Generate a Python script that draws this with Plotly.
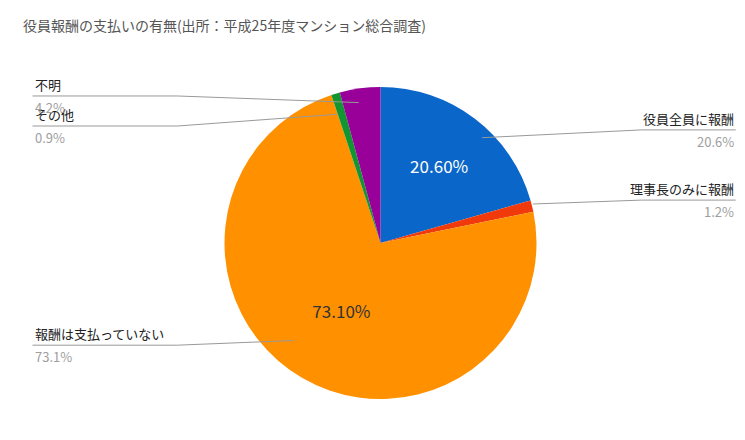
import plotly.graph_objects as go

labels = ["役員全員に報酬", "理事長のみに報酬", "報酬は支払っていない", "その他", "不明"]
values = [20.6, 1.2, 73.1, 0.9, 4.2]
colors = ["#0a66c8", "#f03a0c", "#ff9100", "#119632", "#990099"]
inside_text = ["20.60%", "", "73.10%", "", ""]
text_colors = ["white", "white", "#333333", "white", "white"]

fig = go.Figure(go.Pie(
    labels=labels, values=values, sort=False, direction="clockwise", rotation=0,
    marker=dict(colors=colors),
    text=inside_text, textinfo="text", textposition="inside",
    insidetextfont=dict(size=17, color=text_colors),
    domain=dict(x=[0.2, 0.8], y=[0.1, 0.9]),
    hoverinfo="label+percent",
))

# line y (paper), side, elbow x, target x, target y
callouts = [
    (0.79, "right", 0.86, 0.64, 0.77),
    (0.61, "right", 0.86, 0.71, 0.60),
    (0.238, "left", 0.22, 0.38, 0.25),
    (0.80, "left", 0.22, 0.44, 0.83),
    (0.877, "left", 0.22, 0.47, 0.86),
]
for i, (y, side, ex, tx, ty) in enumerate(callouts):
    x = 0.99 if side == "right" else 0.02
    fig.add_annotation(x=x, y=y, xref="paper", yref="paper", xanchor=side,
                       yanchor="bottom", text=labels[i], showarrow=False,
                       font=dict(size=13, color="#222"))
    fig.add_annotation(x=x, y=y, xref="paper", yref="paper", xanchor=side,
                       yanchor="top", text=f"{values[i]}%", showarrow=False,
                       font=dict(size=13, color="#9e9e9e"))
    fig.add_shape(type="line", xref="paper", yref="paper",
                  x0=x, x1=ex, y0=y, y1=y, line=dict(color="#999", width=1))
    fig.add_shape(type="line", xref="paper", yref="paper",
                  x0=ex, x1=tx, y0=y, y1=ty, line=dict(color="#999", width=1))

fig.update_layout(
    width=745, height=440, showlegend=False,
    margin=dict(l=10, r=10, t=40, b=10),
    paper_bgcolor="white",
    font=dict(family="Noto Sans CJK JP"),
    title=dict(text="役員報酬の支払いの有無(出所：平成25年度マンション総合調査)",
               x=0.02, y=0.97, font=dict(size=14, color="#555")),
)
fig.write_html("out.html")
